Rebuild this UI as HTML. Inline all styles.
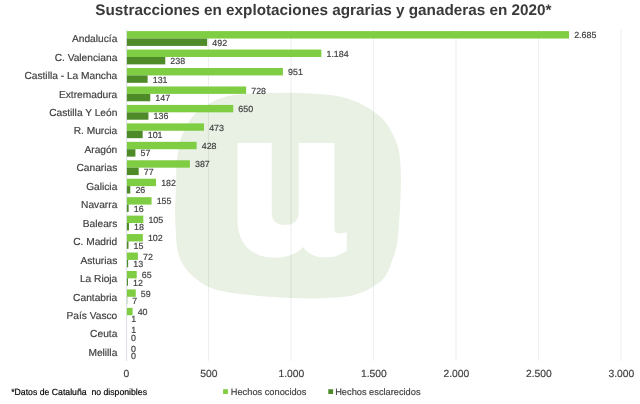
<!DOCTYPE html>
<html lang="es"><head><meta charset="utf-8"><title>Sustracciones en explotaciones agrarias y ganaderas en 2020</title>
<style>html,body{margin:0;padding:0;background:#fff;width:640px;height:404px;overflow:hidden}</style></head>
<body>
<svg width="640" height="404" viewBox="0 0 640 404" style="display:block;position:absolute;left:0;top:0" font-family="'Liberation Sans', Arial, sans-serif" text-rendering="geometricPrecision">
<style>text{stroke-width:0.18px;paint-order:stroke}</style>
<rect width="640" height="404" fill="#fff"/>
<path d="M290.00,92.75 C297.50,92.78 303.33,93.03 310.00,93.40 C316.67,93.78 324.58,94.36 330.00,95.00 C335.42,95.64 338.33,96.20 342.50,97.25 C346.67,98.30 350.83,99.59 355.00,101.30 C359.17,103.01 363.33,104.95 367.50,107.50 C371.67,110.05 376.50,113.43 380.00,116.60 C383.50,119.77 385.93,122.60 388.50,126.50 C391.07,130.40 393.69,136.08 395.40,140.00 C397.11,143.92 397.97,146.67 398.75,150.00 C399.53,153.33 399.78,156.67 400.10,160.00 C400.43,163.33 400.57,166.67 400.70,170.00 C400.83,173.33 400.90,176.25 400.90,180.00 C400.90,183.75 400.83,188.33 400.70,192.50 C400.57,196.67 400.32,200.83 400.10,205.00 C399.88,209.17 399.65,213.33 399.40,217.50 C399.15,221.67 398.95,225.83 398.60,230.00 C398.25,234.17 397.90,238.75 397.30,242.50 C396.70,246.25 395.97,249.17 395.00,252.50 C394.03,255.83 392.63,259.42 391.50,262.50 C390.37,265.58 389.72,268.13 388.20,271.00 C386.68,273.87 385.02,277.05 382.40,279.70 C379.78,282.35 375.61,284.92 372.50,286.90 C369.39,288.88 366.88,290.25 363.75,291.60 C360.62,292.95 357.50,294.07 353.75,295.00 C350.00,295.93 346.46,296.67 341.25,297.20 C336.04,297.73 327.71,298.00 322.50,298.20 C317.29,298.40 315.42,298.45 310.00,298.40 C304.58,298.35 296.67,298.17 290.00,297.90 C283.33,297.63 276.67,297.27 270.00,296.80 C263.33,296.33 256.25,295.72 250.00,295.10 C243.75,294.48 237.50,293.85 232.50,293.10 C227.50,292.35 223.96,291.63 220.00,290.60 C216.04,289.57 212.08,288.35 208.75,286.90 C205.42,285.45 202.81,283.78 200.00,281.90 C197.19,280.02 194.30,277.83 191.90,275.60 C189.50,273.37 187.38,270.89 185.60,268.50 C183.82,266.11 182.39,263.50 181.25,261.25 C180.11,259.00 179.46,257.38 178.75,255.00 C178.04,252.62 177.53,251.40 177.00,247.00 C176.47,242.60 175.92,234.77 175.60,228.60 C175.28,222.43 175.10,215.27 175.10,210.00 C175.10,204.73 175.42,201.17 175.60,197.00 C175.78,192.83 176.08,189.29 176.20,185.00 C176.32,180.71 176.15,175.62 176.30,171.25 C176.45,166.88 176.75,162.29 177.10,158.75 C177.45,155.21 177.87,153.12 178.40,150.00 C178.93,146.88 179.38,143.08 180.30,140.00 C181.22,136.92 182.55,134.40 183.90,131.50 C185.25,128.60 186.45,125.65 188.40,122.60 C190.35,119.55 192.10,116.37 195.60,113.20 C199.10,110.03 205.23,106.10 209.40,103.60 C213.57,101.10 216.96,99.57 220.60,98.20 C224.24,96.83 227.60,96.07 231.25,95.40 C234.90,94.73 236.88,94.57 242.50,94.20 C248.12,93.83 257.08,93.44 265.00,93.20 C272.92,92.96 282.50,92.72 290.00,92.75Z" fill="#e8f1e3"/>
<path d="M237.5,143 H271.7 V213 C271.7,221 277,224.9 285,224.9 C293,224.9 298.6,221 298.6,213 V143 H334.5 V229 C334.5,232.5 336.5,233.8 340,233.6 C342.5,233.4 345,232.8 346.8,232 V250.8 C341,255 333,257.6 325.5,257.6 C316,257.6 308,254 303,247 C297,254 286,257.8 274.7,257.8 C252,257.8 237.5,244 237.5,220 Z" fill="#fff"/>
<rect x="126.10" y="29.50" width="1.00" height="331.48" fill="#dcdfe8"/>
<rect x="207.90" y="29.50" width="1.20" height="331.48" fill="rgba(0,0,0,0.062)"/>
<rect x="290.40" y="29.50" width="1.20" height="331.48" fill="rgba(0,0,0,0.062)"/>
<rect x="372.90" y="29.50" width="1.20" height="331.48" fill="rgba(0,0,0,0.062)"/>
<rect x="455.40" y="29.50" width="1.20" height="331.48" fill="rgba(0,0,0,0.062)"/>
<rect x="537.90" y="29.50" width="1.20" height="331.48" fill="rgba(0,0,0,0.062)"/>
<rect x="620.40" y="29.50" width="1.20" height="331.48" fill="rgba(0,0,0,0.062)"/>
<rect x="126.90" y="31.12" width="442.13" height="7.40" fill="#7ecd42"/>
<rect x="126.90" y="38.52" width="80.28" height="7.40" fill="#4f8a29"/>
<text x="117.3" y="42.22" font-size="10.2" text-anchor="end" fill="#404040" stroke="#404040">Andalucía</text>
<text x="574.13" y="38.27" font-size="8.9" fill="#404040" stroke="#404040">2.685</text>
<text x="212.28" y="45.67" font-size="8.9" fill="#404040" stroke="#404040">492</text>
<rect x="126.90" y="49.57" width="194.46" height="7.40" fill="#7ecd42"/>
<rect x="126.90" y="56.97" width="38.37" height="7.40" fill="#4f8a29"/>
<text x="117.3" y="60.67" font-size="10.2" text-anchor="end" fill="#404040" stroke="#404040">C. Valenciana</text>
<text x="326.46" y="56.72" font-size="8.9" fill="#404040" stroke="#404040">1.184</text>
<text x="170.37" y="64.12" font-size="8.9" fill="#404040" stroke="#404040">238</text>
<rect x="126.90" y="68.02" width="156.02" height="7.40" fill="#7ecd42"/>
<rect x="126.90" y="75.42" width="20.72" height="7.40" fill="#4f8a29"/>
<text x="117.3" y="79.12" font-size="10.2" text-anchor="end" fill="#404040" stroke="#404040">Castilla - La Mancha</text>
<text x="288.02" y="75.17" font-size="8.9" fill="#404040" stroke="#404040">951</text>
<text x="152.72" y="82.57" font-size="8.9" fill="#404040" stroke="#404040">131</text>
<rect x="126.90" y="86.47" width="119.22" height="7.40" fill="#7ecd42"/>
<rect x="126.90" y="93.87" width="23.36" height="7.40" fill="#4f8a29"/>
<text x="117.3" y="97.57" font-size="10.2" text-anchor="end" fill="#404040" stroke="#404040">Extremadura</text>
<text x="251.22" y="93.62" font-size="8.9" fill="#404040" stroke="#404040">728</text>
<text x="155.35" y="101.02" font-size="8.9" fill="#404040" stroke="#404040">147</text>
<rect x="126.90" y="104.92" width="106.35" height="7.40" fill="#7ecd42"/>
<rect x="126.90" y="112.32" width="21.54" height="7.40" fill="#4f8a29"/>
<text x="117.3" y="116.02" font-size="10.2" text-anchor="end" fill="#404040" stroke="#404040">Castilla Y León</text>
<text x="238.35" y="112.07" font-size="8.9" fill="#404040" stroke="#404040">650</text>
<text x="153.54" y="119.47" font-size="8.9" fill="#404040" stroke="#404040">136</text>
<rect x="126.90" y="123.37" width="77.14" height="7.40" fill="#7ecd42"/>
<rect x="126.90" y="130.77" width="15.76" height="7.40" fill="#4f8a29"/>
<text x="117.3" y="134.47" font-size="10.2" text-anchor="end" fill="#404040" stroke="#404040">R. Murcia</text>
<text x="209.15" y="130.52" font-size="8.9" fill="#404040" stroke="#404040">473</text>
<text x="147.76" y="137.92" font-size="8.9" fill="#404040" stroke="#404040">101</text>
<rect x="126.90" y="141.82" width="69.72" height="7.40" fill="#7ecd42"/>
<rect x="126.90" y="149.22" width="8.51" height="7.40" fill="#4f8a29"/>
<text x="117.3" y="152.92" font-size="10.2" text-anchor="end" fill="#404040" stroke="#404040">Aragón</text>
<text x="201.72" y="148.97" font-size="8.9" fill="#404040" stroke="#404040">428</text>
<text x="140.50" y="156.37" font-size="8.9" fill="#404040" stroke="#404040">57</text>
<rect x="126.90" y="160.27" width="62.96" height="7.40" fill="#7ecd42"/>
<rect x="126.90" y="167.67" width="11.80" height="7.40" fill="#4f8a29"/>
<text x="117.3" y="171.37" font-size="10.2" text-anchor="end" fill="#404040" stroke="#404040">Canarias</text>
<text x="194.96" y="167.42" font-size="8.9" fill="#404040" stroke="#404040">387</text>
<text x="143.81" y="174.82" font-size="8.9" fill="#404040" stroke="#404040">77</text>
<rect x="126.90" y="178.72" width="29.13" height="7.40" fill="#7ecd42"/>
<rect x="126.90" y="186.12" width="3.39" height="7.40" fill="#4f8a29"/>
<text x="117.3" y="189.82" font-size="10.2" text-anchor="end" fill="#404040" stroke="#404040">Galicia</text>
<text x="161.13" y="185.87" font-size="8.9" fill="#404040" stroke="#404040">182</text>
<text x="135.39" y="193.27" font-size="8.9" fill="#404040" stroke="#404040">26</text>
<rect x="126.90" y="197.17" width="24.68" height="7.40" fill="#7ecd42"/>
<rect x="126.90" y="204.57" width="1.74" height="7.40" fill="#4f8a29"/>
<text x="117.3" y="208.27" font-size="10.2" text-anchor="end" fill="#404040" stroke="#404040">Navarra</text>
<text x="156.67" y="204.32" font-size="8.9" fill="#404040" stroke="#404040">155</text>
<text x="133.74" y="211.72" font-size="8.9" fill="#404040" stroke="#404040">16</text>
<rect x="126.90" y="215.61" width="16.43" height="7.40" fill="#7ecd42"/>
<rect x="126.90" y="223.01" width="2.07" height="7.40" fill="#4f8a29"/>
<text x="117.3" y="226.71" font-size="10.2" text-anchor="end" fill="#404040" stroke="#404040">Balears</text>
<text x="148.42" y="222.76" font-size="8.9" fill="#404040" stroke="#404040">105</text>
<text x="134.07" y="230.16" font-size="8.9" fill="#404040" stroke="#404040">18</text>
<rect x="126.90" y="234.06" width="15.93" height="7.40" fill="#7ecd42"/>
<rect x="126.90" y="241.46" width="1.58" height="7.40" fill="#4f8a29"/>
<text x="117.3" y="245.16" font-size="10.2" text-anchor="end" fill="#404040" stroke="#404040">C. Madrid</text>
<text x="147.93" y="241.21" font-size="8.9" fill="#404040" stroke="#404040">102</text>
<text x="133.57" y="248.61" font-size="8.9" fill="#404040" stroke="#404040">15</text>
<rect x="126.90" y="252.51" width="10.98" height="7.40" fill="#7ecd42"/>
<rect x="126.90" y="259.91" width="1.25" height="7.40" fill="#4f8a29"/>
<text x="117.3" y="263.61" font-size="10.2" text-anchor="end" fill="#404040" stroke="#404040">Asturias</text>
<text x="142.98" y="259.66" font-size="8.9" fill="#404040" stroke="#404040">72</text>
<text x="133.25" y="267.06" font-size="8.9" fill="#404040" stroke="#404040">13</text>
<rect x="126.90" y="270.96" width="9.82" height="7.40" fill="#7ecd42"/>
<rect x="126.90" y="278.36" width="1.08" height="7.40" fill="#4f8a29"/>
<text x="117.3" y="282.06" font-size="10.2" text-anchor="end" fill="#404040" stroke="#404040">La Rioja</text>
<text x="141.82" y="278.11" font-size="8.9" fill="#404040" stroke="#404040">65</text>
<text x="133.08" y="285.51" font-size="8.9" fill="#404040" stroke="#404040">12</text>
<rect x="126.90" y="289.41" width="8.84" height="7.40" fill="#7ecd42"/>
<rect x="126.90" y="296.81" width="0.30" height="7.40" fill="#4f8a29"/>
<text x="117.3" y="300.51" font-size="10.2" text-anchor="end" fill="#404040" stroke="#404040">Cantabria</text>
<text x="140.84" y="296.56" font-size="8.9" fill="#404040" stroke="#404040">59</text>
<text x="132.25" y="303.96" font-size="8.9" fill="#404040" stroke="#404040">7</text>
<rect x="126.90" y="307.86" width="5.70" height="7.40" fill="#7ecd42"/>
<text x="117.3" y="318.96" font-size="10.2" text-anchor="end" fill="#404040" stroke="#404040">País Vasco</text>
<text x="137.70" y="315.01" font-size="8.9" fill="#404040" stroke="#404040">40</text>
<text x="131.27" y="322.41" font-size="8.9" fill="#404040" stroke="#404040">1</text>
<text x="117.3" y="337.41" font-size="10.2" text-anchor="end" fill="#404040" stroke="#404040">Ceuta</text>
<text x="131.27" y="333.46" font-size="8.9" fill="#404040" stroke="#404040">1</text>
<text x="131.10" y="340.86" font-size="8.9" fill="#404040" stroke="#404040">0</text>
<text x="117.3" y="355.86" font-size="10.2" text-anchor="end" fill="#404040" stroke="#404040">Melilla</text>
<text x="131.10" y="351.91" font-size="8.9" fill="#404040" stroke="#404040">0</text>
<text x="131.10" y="359.31" font-size="8.9" fill="#404040" stroke="#404040">0</text>
<text x="126.35" y="377.0" font-size="10.3" text-anchor="middle" fill="#404040" stroke="#404040">0</text>
<text x="208.85" y="377.0" font-size="10.3" text-anchor="middle" fill="#404040" stroke="#404040">500</text>
<text x="291.35" y="377.0" font-size="10.3" text-anchor="middle" fill="#404040" stroke="#404040">1.000</text>
<text x="373.85" y="377.0" font-size="10.3" text-anchor="middle" fill="#404040" stroke="#404040">1.500</text>
<text x="456.35" y="377.0" font-size="10.3" text-anchor="middle" fill="#404040" stroke="#404040">2.000</text>
<text x="538.85" y="377.0" font-size="10.3" text-anchor="middle" fill="#404040" stroke="#404040">2.500</text>
<text x="621.35" y="377.0" font-size="10.3" text-anchor="middle" fill="#404040" stroke="#404040">3.000</text>
<text x="323.4" y="15.2" font-size="15.29" font-weight="bold" text-anchor="middle" fill="#3a3a3a" id="title">Sustracciones en explotaciones agrarias y ganaderas en 2020*</text>
<text x="11.2" y="394.9" font-size="8.95" fill="#000" stroke="#000" stroke-width="0.15" textLength="135.8" lengthAdjust="spacingAndGlyphs" id="foot" style="white-space:pre">*Datos de Cataluña  no disponibles</text>
<rect x="223.1" y="389.2" width="4.8" height="4.8" fill="#7ecd42"/>
<text x="230.8" y="394.6" font-size="9.25" fill="#404040" stroke="#404040" id="lg1">Hechos conocidos</text>
<rect x="328.3" y="389.2" width="4.8" height="4.8" fill="#4f8a29"/>
<text x="335.2" y="394.6" font-size="9.25" fill="#404040" stroke="#404040" id="lg2">Hechos esclarecidos</text>
</svg>
</body></html>
